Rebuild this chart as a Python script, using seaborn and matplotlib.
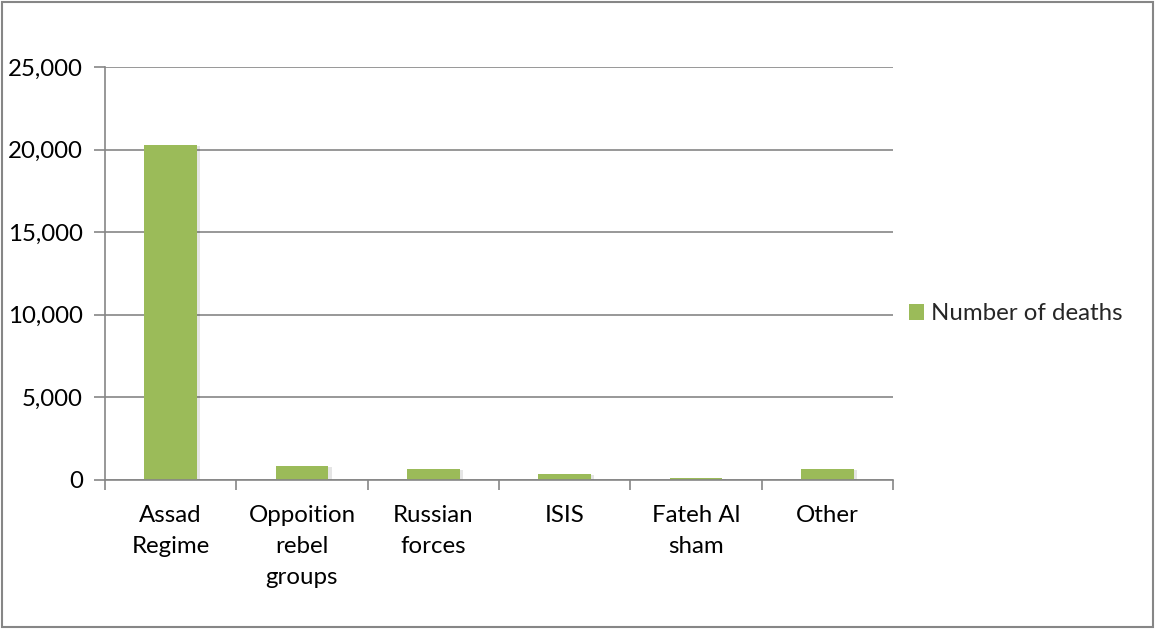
import matplotlib
matplotlib.use("Agg")
import matplotlib.pyplot as plt
import matplotlib.patches as mpatches
import seaborn as sns
import pandas as pd

categories = ["Assad\nRegime", "Oppoition\nrebel\ngroups", "Russian\nforces",
              "ISIS", "Fateh Al\nsham", "Other"]
deaths = [20300, 830, 665, 363, 100, 650]
y_ticks = [0, 5000, 10000, 15000, 20000, 25000]
series_name = "Number of deaths"

bar_color = "#9BBB59"
grid_color = "#868686"
font_size = 17.3

sns.set_theme(style="white")
plt.rcParams["font.family"] = ["Lato", "DejaVu Sans"]

df = pd.DataFrame({"party": categories, "deaths": deaths})

fig = plt.figure(figsize=(11.55, 6.29), dpi=100)
ax = fig.add_axes([105 / 1155, 1 - 480 / 629, 788 / 1155, 413 / 629])

sns.barplot(data=df, x="party", y="deaths", color=bar_color, width=0.4,
            saturation=1, ax=ax, zorder=3)
for p in ax.patches:
    p.set_edgecolor("none")
    shadow = mpatches.Rectangle((p.get_x() + 0.025, p.get_y()), p.get_width(),
                                max(p.get_height() - 60, 0), facecolor="#000000",
                                alpha=0.10, zorder=2, edgecolor="none")
    ax.add_patch(shadow)

ax.set_xlim(-0.5, len(categories) - 0.5)
ax.set_ylim(0, 25000)
ax.set_yticks(y_ticks)
ax.set_yticklabels([f"{v:,}" for v in y_ticks], fontsize=font_size, color="black")
ax.yaxis.grid(True, color=grid_color, linewidth=1.2, zorder=0)
ax.set_axisbelow(True)

# Category labels centred under bars, tick marks on category boundaries
ax.set_xticks(range(len(categories)))
ax.set_xticklabels(categories, fontsize=font_size, color="black", linespacing=1.58)
ax.tick_params(axis="x", which="major", bottom=True, length=0, pad=18)
ax.set_xticks([i - 0.5 for i in range(len(categories) + 1)], minor=True)
ax.tick_params(axis="x", which="minor", bottom=True, length=7, width=1.2,
               color=grid_color, direction="out")
ax.tick_params(axis="y", which="major", left=True, length=8, width=1.2,
               color=grid_color, direction="out", pad=8)

for s in ["top", "right"]:
    ax.spines[s].set_visible(False)
for s in ["left", "bottom"]:
    ax.spines[s].set_color(grid_color)
    ax.spines[s].set_linewidth(1.2)
    ax.spines[s].set_zorder(4)

ax.set_xlabel("")
ax.set_ylabel("")

handle = mpatches.Patch(facecolor=bar_color, edgecolor="none", label=series_name)
fig.legend(handles=[handle], loc="center left",
           bbox_to_anchor=(909 / 1155, 1 - 314 / 629),
           frameon=False, fontsize=font_size, handlelength=0.62, handleheight=0.62,
           handletextpad=0.3, borderaxespad=0, borderpad=0)

# Outer chart border
fig.patches.append(mpatches.Rectangle((0.0015, 0.0025), 0.997, 0.995,
                                      transform=fig.transFigure, fill=False,
                                      edgecolor=grid_color, linewidth=1.5))

fig.savefig("out.png", dpi=100)
